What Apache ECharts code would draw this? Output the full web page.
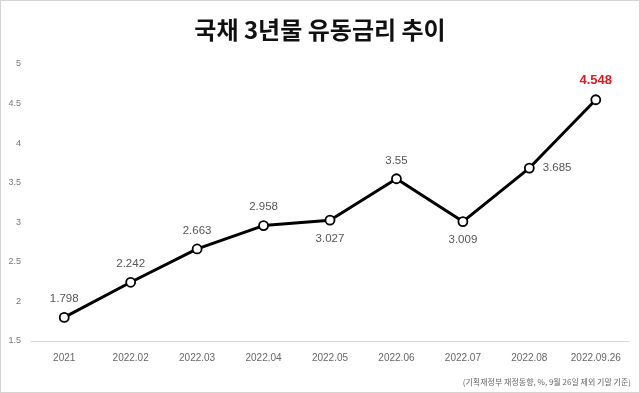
<!DOCTYPE html>
<html>
<head>
<meta charset="utf-8">
<script src="https://cdn.jsdelivr.net/npm/echarts@6/dist/echarts.min.js"></script>
<style>
  html, body { margin: 0; padding: 0; background: #fff; }
  #chart { width: 638px; height: 391px; border: 1px solid #d4d4d4; }
</style>
</head>
<body>
<div id="chart"></div>
<script>
// 국채 3년물 유동금리 추이
var months = ['2021', '2022.02', '2022.03', '2022.04', '2022.05', '2022.06', '2022.07', '2022.08', '2022.09.26'];
var rates = [1.798, 2.242, 2.663, 2.958, 3.027, 3.55, 3.009, 3.685, 4.548];
var labelSide = ['top', 'top', 'top', 'top', 'bottom', 'top', 'bottom', 'right', 'top'];

var chart = echarts.init(document.getElementById('chart'));

var points = rates.map(function (v, i) {
  var last = i === rates.length - 1;
  return {
    value: v,
    label: {
      position: labelSide[i],
      distance: labelSide[i] === 'right' ? 8 : 7,
      color: last ? '#e8141b' : '#555',
      fontWeight: last ? 'bold' : 'normal',
      fontSize: last ? 13 : 11.5
    }
  };
});

var option = {
  title: {
    text: '국채 3년물 유동금리 추이',
    left: 'center',
    top: 12,
    textStyle: {
      fontFamily: 'Noto Sans CJK KR',
      fontSize: 24,
      fontWeight: 'bold',
      color: '#111'
    }
  },
  graphic: [{
    type: 'text',
    right: 8,
    bottom: 6,
    style: {
      text: '(기획재정부 재정동향, %, 9월 26일 제외 기말 기준)',
      fill: '#666',
      font: '8px "Noto Sans CJK KR"'
    }
  }],
  grid: {
    left: 30,
    right: 10,
    top: 63,
    bottom: 51
  },
  xAxis: {
    type: 'category',
    data: months,
    boundaryGap: true,
    axisLine: { lineStyle: { color: '#d9d9d9' } },
    axisTick: { show: false },
    axisLabel: { color: '#666', fontSize: 10, margin: 12, fontFamily: 'Liberation Sans' }
  },
  yAxis: {
    type: 'value',
    min: 1.5,
    max: 5,
    interval: 0.5,
    splitLine: { show: false },
    axisLine: { show: false },
    axisTick: { show: false },
    axisLabel: { color: '#777', fontSize: 9, margin: 10, fontFamily: 'Liberation Sans' }
  },
  series: [{
    type: 'line',
    data: points,
    lineStyle: { color: '#000', width: 3 },
    symbol: 'circle',
    symbolSize: 9,
    itemStyle: { color: '#fff', borderColor: '#000', borderWidth: 1.8 },
    label: { show: true, fontFamily: 'Liberation Sans' },
    animation: false
  }]
};

chart.setOption(option);
</script>
</body>
</html>
